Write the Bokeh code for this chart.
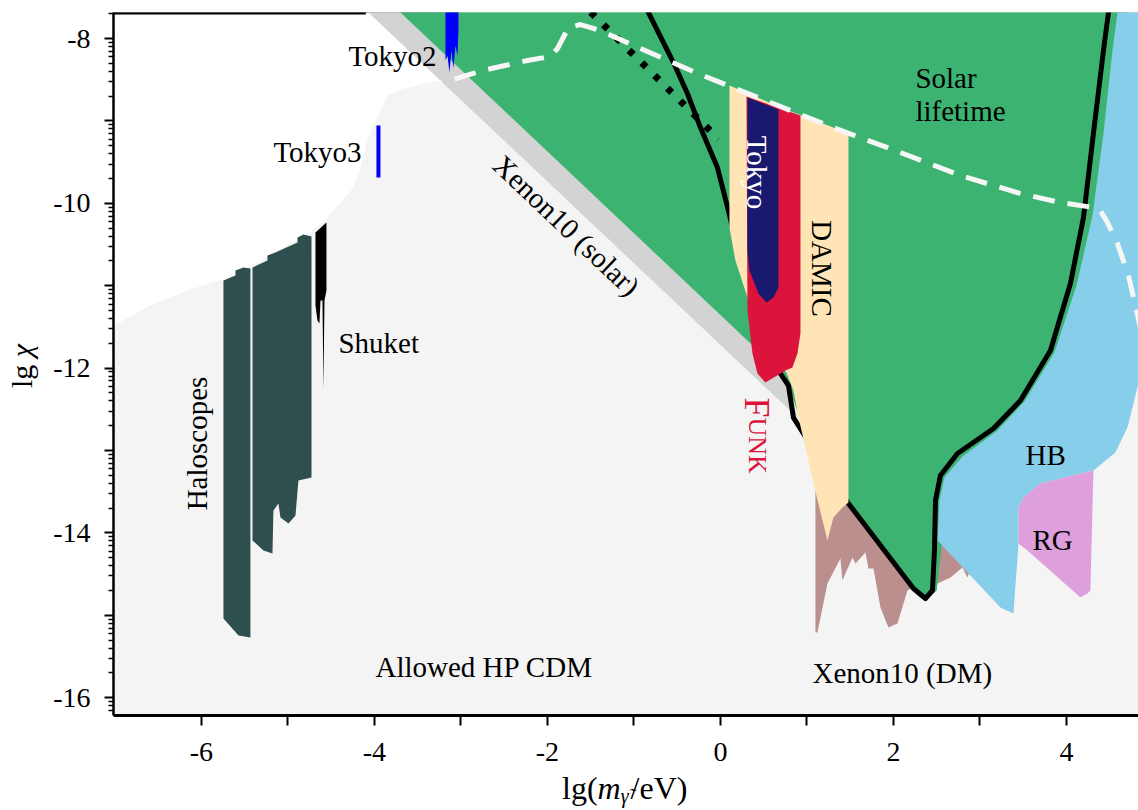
import math
from bokeh.plotting import figure
from bokeh.models import FixedTicker, CustomJSTickFormatter, Label, Div
from bokeh.layouts import row, column
from bokeh.embed import file_html
from bokeh.resources import INLINE

FONT = "Liberation Serif"

# ---------------- data (lg m [eV], lg chi) ----------------
allowed_x = [-7.2, -7.017, -6.821, -6.590, -6.162, -5.699, -5.468, -5.121, -4.775, -4.566, -4.474,
             -4.243, -4.162, -4.081, -4.012, -3.931, -3.850, -3.699, -3.503, -3.225, -3.006,
             5.0, 5.0, -7.2]
allowed_y = [-11.55, -11.483, -11.374, -11.240, -11.058, -10.900, -10.779, -10.573, -10.367, -10.209, -10.087,
             -9.808, -9.566, -9.238, -9.056, -8.874, -8.692, -8.619, -8.570, -8.510, -7.6,
             -7.6, -16.4, -16.4]

xenon_solar_x = [-4.155, -3.785, 0.751, 0.890]
xenon_solar_y = [-7.6, -7.6, -12.102, -12.600]

xenon_dm_x = [1.098, 2.948, 2.948, 2.890, 2.855, 2.798, 2.659, 2.509, 2.347, 2.231, 2.162, 2.046,
              1.942, 1.850, 1.769, 1.711, 1.676, 1.561, 1.526, 1.410, 1.387, 1.237, 1.121, 1.098]
xenon_dm_y = [-13.364, -13.364, -14.408, -14.456, -14.541, -14.420, -14.541, -14.614, -14.784, -14.663,
              -14.699, -15.100, -15.148, -14.905, -14.432, -14.432, -14.238, -14.371, -14.299, -14.578,
              -14.311, -14.614, -15.209, -15.209]

solar_x = [-3.785, 4.70, 4.60, 4.36, 4.17, 3.92, 3.57, 3.26, 2.85, 2.64, 2.58, 2.56, 2.50, 2.37,
           1.480, 0.925, 0.751]
solar_y = [-7.6, -7.6, -9.15, -10.15, -11.0, -11.81, -12.40, -12.76, -13.07, -13.33, -13.61, -14.15,
           -14.70, -14.82, -13.667, -12.636, -12.102]

hb_x = [4.601, 4.95, 4.95, 4.832, 4.705, 4.566, 4.312, 3.699, 3.503, 3.445, 3.445, 3.434, 3.387,
        3.237, 2.509, 2.532, 2.590, 2.798, 3.202, 3.514, 3.861, 4.116, 4.301, 4.428, 4.532]
hb_y = [-7.6, -7.6, -12.0, -12.187, -12.721, -13.024, -13.243, -13.400, -13.570, -13.692, -14.129,
        -14.30, -14.978, -14.905, -14.092, -13.607, -13.328, -13.073, -12.757, -12.405, -11.811,
        -10.998, -10.148, -9.153, -8.146]

rg_x = [4.312, 3.699, 3.503, 3.445, 3.445, 3.549, 4.162, 4.243, 4.277]
rg_y = [-13.243, -13.400, -13.570, -13.692, -14.129, -14.214, -14.784, -14.735, -14.699]

damic_x = [0.104, 0.428, 0.786, 1.156, 1.480, 1.480, 1.410, 1.306, 1.237, 1.075, 0.983, 0.902,
           0.844, 0.763, 0.462, 0.324, 0.173, 0.104]
damic_y = [-8.570, -8.716, -8.874, -9.019, -9.153, -13.631, -13.692, -13.813, -14.092, -13.400,
           -12.964, -12.600, -12.272, -12.053, -11.726, -11.180, -10.694, -10.294]

funk_x = [0.301, 0.925, 0.925, 0.890, 0.832, 0.751, 0.694, 0.520, 0.428, 0.370, 0.312]
funk_y = [-8.704, -8.934, -11.580, -11.823, -11.993, -12.029, -12.066, -12.175, -12.066, -11.823, -11.301]

tokyo_x = [0.312, 0.671, 0.671, 0.613, 0.532, 0.439, 0.335, 0.312]
tokyo_y = [-8.716, -8.862, -11.022, -11.143, -11.204, -11.095, -10.816, -10.573]

halo1_x = [-5.746, -5.607, -5.607, -5.514, -5.434, -5.434, -5.572, -5.746]
halo1_y = [-10.937, -10.876, -10.816, -10.779, -10.791, -15.269, -15.245, -15.039]

halo2_x = [-5.410, -5.237, -5.237, -5.145, -4.890, -4.890, -4.821, -4.728, -4.728, -4.879, -4.913,
           -4.994, -5.087, -5.110, -5.168, -5.179, -5.283, -5.410]
halo2_y = [-10.779, -10.694, -10.633, -10.597, -10.476, -10.415, -10.379, -10.403, -13.328, -13.364,
           -13.789, -13.886, -13.813, -13.643, -13.728, -14.250, -14.214, -14.092]

shuket_x = [-4.682, -4.555, -4.555, -4.578, -4.590, -4.601, -4.624, -4.636, -4.659, -4.682]
shuket_y = [-10.354, -10.233, -11.058, -11.180, -12.272, -11.180, -11.180, -11.459, -11.422, -11.240]

tokyo2_x = [-3.179, -3.029, -3.029, -3.040, -3.064, -3.087, -3.110, -3.133, -3.156, -3.179]
tokyo2_y = [-7.6, -7.6, -7.903, -8.206, -8.085, -8.364, -8.146, -8.413, -8.206, -8.267]

tokyo3_x = [-3.954, -3.954]
tokyo3_y = [-9.056, -9.687]

limit_x = [-0.873, -0.543, -0.382, -0.231, -0.035, 0.092, 0.173, 0.462, 0.694, 0.786, 0.844, 1.156,
           1.480, 2.231, 2.370, 2.451, 2.474, 2.486, 2.543, 2.740, 3.156, 3.468, 3.815, 4.046,
           4.197, 4.312, 4.428, 4.486, 4.50]
limit_y = [-7.6, -8.291, -8.667, -9.080, -9.566, -10.087, -10.451, -11.422, -12.066, -12.211, -12.600,
           -13.121, -13.643, -14.675, -14.796, -14.699, -14.214, -13.607, -13.303, -13.036, -12.733,
           -12.393, -11.786, -10.973, -10.172, -9.153, -8.146, -7.684, -7.6]

dotted_x = [-1.50, -0.02]
dotted_y = [-7.68, -9.22]

lifetime_x = [-3.468, -3.202, -2.751, -2.231, -1.965, -1.884, -1.757, -1.618, -1.387, -0.925, -0.231,
              0.462, 1.272, 2.081, 2.775, 3.468, 3.931, 4.312, 4.393, 4.474, 4.590, 4.717, 4.832, 4.87]
lifetime_y = [-8.583, -8.534, -8.388, -8.267, -8.218, -8.121, -7.867, -7.830, -7.903, -8.121, -8.437,
              -8.728, -9.068, -9.383, -9.663, -9.881, -9.990, -10.051, -10.087, -10.233, -10.488,
              -10.876, -11.398, -11.60]

x_ticks = [-6, -5, -4, -3, -2, -1, 0, 1, 2, 3, 4]
y_ticks = [-16, -15, -14, -13, -12, -11, -10, -9, -8]

# ---------------- figure ----------------
YLAB_W = 40
p = figure(width=1138 - YLAB_W, height=780, x_range=(-7.017, 4.833), y_range=(-16.216, -7.684),
           output_backend="svg", toolbar_location=None,
           min_border_left=113 - YLAB_W, min_border_right=0, min_border_top=12, min_border_bottom=65,
           margin=0)
p.xgrid.visible = False
p.ygrid.visible = False
p.background_fill_color = "white"
p.border_fill_color = "white"
p.outline_line_color = "#aaaaaa"
p.outline_line_width = 1

def patch(xs, ys, color):
    p.patch(xs, ys, fill_color=color, line_color=None)

patch(allowed_x, allowed_y, "#f4f4f4")
patch(xenon_solar_x, xenon_solar_y, "#d3d3d3")
patch(xenon_dm_x, xenon_dm_y, "#bc8f8f")
patch(solar_x, solar_y, "#3cb371")
patch(hb_x, hb_y, "#87ceeb")
patch(rg_x, rg_y, "#dda0dd")
p.line(limit_x, limit_y, line_color="black", line_width=5, line_join="round")
p.line(dotted_x, dotted_y, line_color="black", line_width=7, line_dash="6 12", line_cap="butt")
patch(damic_x, damic_y, "#ffe4b5")
patch(funk_x, funk_y, "#dc143c")
patch(tokyo_x, tokyo_y, "#191970")
patch(halo1_x, halo1_y, "#2f4f4f")
patch(halo2_x, halo2_y, "#2f4f4f")
patch(shuket_x, shuket_y, "black")
patch(tokyo2_x, tokyo2_y, "#0000ff")
p.line(tokyo3_x, tokyo3_y, line_color="#0000ff", line_width=4)
p.line(lifetime_x, lifetime_y, line_color="#f6f6f6", line_width=5, line_dash="22 13")
p.line([-7.02, -4.1], [-7.692, -7.692], line_color="black", line_width=2.5)

# ---------------- axes ----------------
fmt = "var t = Math.round(tick); return (t % 2 === 0) ? String(t) : '';"
p.xaxis.ticker = FixedTicker(ticks=x_ticks, minor_ticks=[])
p.xaxis.formatter = CustomJSTickFormatter(code=fmt)
minor_y = []
for n in range(-17, -7):
    for k in range(2, 10):
        minor_y.append(n + math.log10(k))
p.yaxis.ticker = FixedTicker(ticks=y_ticks, minor_ticks=minor_y)
p.yaxis.formatter = CustomJSTickFormatter(code=fmt)

for ax in (p.xaxis, p.yaxis):
    ax.axis_line_color = "black"
    ax.major_tick_line_color = "black"
    ax.minor_tick_line_color = "black"
    ax.major_tick_in = 0
    ax.minor_tick_in = 0
    ax.major_label_text_font = FONT
    ax.major_label_text_font_size = "28px"
    ax.major_label_text_color = "black"
p.xaxis.axis_line_width = 3
p.xaxis.major_tick_line_width = 2
p.xaxis.major_tick_out = 10
p.xaxis.minor_tick_out = 0
p.xaxis.major_label_standoff = 17
p.yaxis.axis_line_width = 2.5
p.yaxis.major_tick_line_width = 2
p.yaxis.minor_tick_line_width = 1.5
p.yaxis.major_tick_out = 9
p.yaxis.minor_tick_out = 5
p.yaxis.major_label_standoff = 14

# ---------------- texts ----------------
def label(x, y, text, size="29px", color="black", angle=0.0, align="left", baseline="alphabetic", style="normal"):
    p.add_layout(Label(x=x, y=y, text=text, text_font=FONT, text_font_size=size, text_color=color,
                       angle=angle, text_align=align, text_baseline=baseline, text_font_style=style))

label(-4.301, -8.206, "Tokyo2")
label(-5.168, -9.383, "Tokyo3")
label(2.254, -8.485, "Solar")
label(2.254, -8.874, "lifetime")
label(-4.416, -11.701, "Shuket")
label(-3.988, -15.633, "Allowed HP CDM")
label(1.064, -15.706, "Xenon10 (DM)")
label(3.526, -13.049, "HB")
label(3.607, -14.080, "RG")
label(-6.046, -12.915, "Haloscopes", angle=math.pi / 2, align="center", baseline="middle")
label(0.428, -9.626, "Tokyo", color="white", angle=-math.pi / 2, align="center", baseline="middle")
label(1.179, -10.791, "DAMIC", angle=-math.pi / 2, align="center", baseline="middle")
label(-1.780, -10.269, "Xenon10 (solar)", angle=-0.76, align="center", baseline="middle")
label(0.428, -12.357, "F", size="36px", color="#dc143c", angle=-math.pi / 2)
label(0.428, -12.600, "UNK", size="26px", color="#dc143c", angle=-math.pi / 2)

# ---------------- axis titles (HTML text beside the canvas) ----------------
xlab_html = ('<div style="padding-left:%dpx; font-family:\'Liberation Serif\'; font-size:32px; '
             'line-height:16px; white-space:nowrap; color:black; overflow:visible;">lg(<i>m</i>'
             '<span style="font-size:20px; position:relative; top:4px;"><i>\u03b3\u0303</i></span>'
             '<span style="margin-left:2px;">/eV)</span></div>'
             % (562 - YLAB_W))
ylab_html = ('<div style="position:relative; width:%dpx; height:780px;">'
             '<div style="position:absolute; left:7px; top:388px; transform:rotate(-90deg); '
             'transform-origin:left top; font-family:\'Liberation Serif\'; font-size:30px; '
             'line-height:30px; white-space:nowrap; color:black;">lg <i>\u03c7</i></div></div>' % YLAB_W)

div_x = Div(text=xlab_html, width=1138 - YLAB_W, height=30, margin=0)
div_y = Div(text=ylab_html, width=YLAB_W, height=810, margin=0)

layout = row(div_y, column(p, div_x, spacing=0, margin=0), spacing=0, margin=0)

open("out.html", "w").write(file_html(layout, INLINE))
